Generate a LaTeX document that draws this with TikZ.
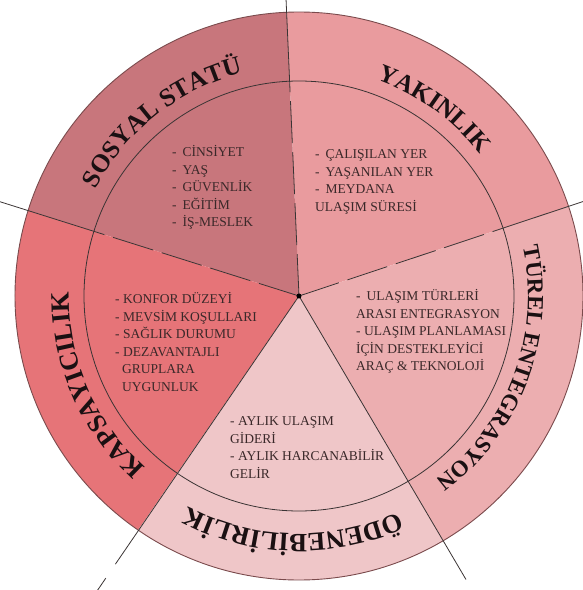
\documentclass[tikz,border=0pt]{standalone}
\usepackage{fontspec}
\setmainfont{Liberation Serif}
\usetikzlibrary{decorations.text}
\definecolor{cSos}{HTML}{C8767C}
\definecolor{cYak}{HTML}{E99B9E}
\definecolor{cTur}{HTML}{ECAEB0}
\definecolor{cOde}{HTML}{EFC6C8}
\definecolor{cKap}{HTML}{E67478}
\definecolor{lineC}{HTML}{3A3434}
\definecolor{rimC}{HTML}{7A4A4C}
\definecolor{txtC}{HTML}{3A2829}
\definecolor{titleC}{HTML}{1A1012}
\begin{document}
\begin{tikzpicture}[x=1pt,y=1pt,
  divider/.style={draw=lineC, line width=0.8pt},
  innerdash/.style={draw=lineC, line width=0.8pt, dash pattern=on 42pt off 9pt},
  itemtext/.style={font=\fontsize{13.5}{17.5}\selectfont, text=txtC, align=left, inner sep=0pt, anchor=base west},
  ringlabel/.style={decorate, decoration={text along path, text align=center, text={#1}}}
  ]
\useasboundingbox (-299,-294) rectangle (283,296);
\coordinate (C) at (0,0);
% sectors
\fill[cYak] (C) -- (18.4:284pt) arc[start angle=18.4, end angle=92.5, radius=284pt] -- cycle;
\fill[cSos] (C) -- (92.5:284pt) arc[start angle=92.5, end angle=162.5, radius=284pt] -- cycle;
\fill[cKap] (C) -- (162.5:284pt) arc[start angle=162.5, end angle=235.5, radius=284pt] -- cycle;
\fill[cOde] (C) -- (235.5:284pt) arc[start angle=235.5, end angle=300.5, radius=284pt] -- cycle;
\fill[cTur] (C) -- (300.5:284pt) arc[start angle=300.5, end angle=378.4, radius=284pt] -- cycle;
% circles
\draw[rimC, line width=0.9pt] (C) circle[radius=284pt];
\draw[lineC, line width=0.8pt] (C) circle[radius=215pt];
% dividers
\coordinate (iT) at (92.5:215pt);  \coordinate (oT) at (92.5:300pt);
\coordinate (iL) at (162.5:215pt); \coordinate (oL) at (162.5:315pt);
\coordinate (iR) at (18.4:215pt);  \coordinate (oR) at (18.4:300pt);
\coordinate (oBR) at (300.5:329pt);
\coordinate (oBL) at (235.6:325pt);
\coordinate (tBL1) at (235.6:342pt); \coordinate (tBL2) at (235.6:358pt);
\draw[innerdash] (C) -- (iT);
\draw[innerdash] (C) -- (iL);
\draw[innerdash] (C) -- (iR);
\draw[divider] (iT) -- (oT);
\draw[divider] (iL) -- (oL);
\draw[divider] (iR) -- (oR);
\draw[divider] (C) -- (oBR);
\draw[divider] (C) -- (oBL);
\draw[divider] (tBL1) -- (tBL2);
\fill[black] (C) circle[radius=2.5pt];
% ring labels
\path[ringlabel={|\color{titleC}\fontsize{25.5}{25.5}\selectfont\bfseries|SOSYAL STATÜ}]
  (175:230pt) arc[start angle=175, end angle=81.4, radius=230pt];
\path[ringlabel={|\color{titleC}\fontsize{25}{25}\selectfont\bfseries|YAKINLIK}]
  (101:230pt) arc[start angle=101, end angle=7.4, radius=230pt];
\path[ringlabel={|\color{titleC}\fontsize{23}{23}\selectfont\bfseries|TÜREL ENTEGRASYON}]
  (34.5:229pt) arc[start angle=34.5, end angle=-75.5, radius=229pt];
\path[ringlabel={|\color{titleC}\fontsize{26.5}{26.5}\selectfont\bfseries|ÖDENEBİLİRLİK}]
  (-41.6:238pt) arc[start angle=-41.6, end angle=-141.6, radius=238pt];
\path[ringlabel={|\color{titleC}\fontsize{26.5}{26.5}\selectfont\bfseries|KAPSAYICILIK}]
  (253.6:230pt) arc[start angle=253.6, end angle=153.6, radius=230pt];
% item lists (anchor at baseline of last line)
\node[itemtext] (sos) at (-127,69.5) {-\hspace{6pt}CİNSİYET\\-\hspace{6pt}YAŞ\\-\hspace{6pt}GÜVENLİK\\-\hspace{6pt}EĞİTİM\\-\hspace{6pt}İŞ-MESLEK};
\node[itemtext] (yak) at (16,85) {-\hspace{6pt}ÇALIŞILAN YER\\-\hspace{6pt}YAŞANILAN YER\\-\hspace{6pt}MEYDANA\\ULAŞIM SÜRESİ};
\node[itemtext] (kap) at (-184,-95) {- KONFOR DÜZEYİ\\- MEVSİM KOŞULLARI\\- SAĞLIK DURUMU\\- DEZAVANTAJLI\\\hspace{7pt}GRUPLARA\\\hspace{7pt}UYGUNLUK};
\node[itemtext] (tur) at (57,-74.5) {-\hspace{6pt}ULAŞIM TÜRLERİ\\ARASI ENTEGRASYON\\- ULAŞIM PLANLAMASI\\İÇİN DESTEKLEYİCİ\\ARAÇ \& TEKNOLOJİ};
\node[itemtext] (ode) at (-69,-182) {- AYLIK ULAŞIM\\GİDERİ\\- AYLIK HARCANABİLİR\\GELİR};
\end{tikzpicture}
\end{document}
